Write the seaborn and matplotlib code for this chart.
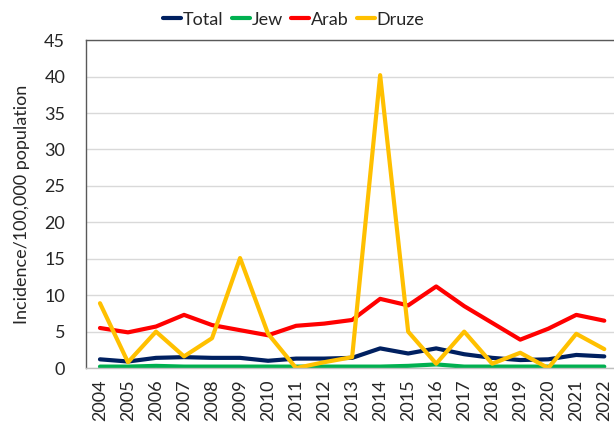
import pandas as pd
import numpy as np
import matplotlib.pyplot as plt
import seaborn as sns

# Incidence per 100,000 population by group
years = [str(y) for y in range(2004, 2023)]
total = [1.2, 0.9, 1.4, 1.5, 1.4, 1.4, 1.0, 1.3, 1.3, 1.4, 2.7, 2.0, 2.7, 1.9, 1.4, 1.1, 1.2, 1.8, 1.6]
jew = [0.2, 0.2, 0.3, 0.2, 0.2, 0.2, 0.2, 0.2, 0.2, 0.2, 0.2, 0.3, 0.5, 0.2, 0.2, 0.2, 0.2, 0.2, 0.2]
arab = [5.5, 4.9, 5.7, 7.3, 5.9, 5.2, 4.5, 5.8, 6.1, 6.6, 9.5, 8.6, 11.2, 8.5, 6.2, 3.9, 5.4, 7.3, 6.5]
druze = [8.9, 0.8, 5.0, 1.6, 4.1, 15.1, 4.7, 0.0, 0.8, 1.5, 40.2, 5.0, 0.6, 5.0, 0.6, 2.1, 0.0, 4.7, 2.6]

groups = ['Total', 'Jew', 'Arab', 'Druze']
colors = ['#002060', '#00B050', '#FF0000', '#FFC000']

df = pd.DataFrame({'Year': years, 'Total': total, 'Jew': jew, 'Arab': arab, 'Druze': druze})
long_df = df.melt(id_vars='Year', var_name='Group', value_name='Incidence')
long_df['x'] = long_df['Year'].map({y: i for i, y in enumerate(years)})

sns.set_style('white')
plt.rcParams['font.family'] = ['Lato', 'DejaVu Sans']

fig = plt.figure(figsize=(6.14, 4.32), dpi=100)
ax = fig.add_axes([0.140, 0.148, 0.867, 0.759])

sns.lineplot(data=long_df, x='x', y='Incidence', hue='Group', hue_order=groups,
             palette=colors, linewidth=3, ax=ax, legend=True)

ax.set_xlim(-0.5, 18.5)
ax.set_ylim(0, 45)
ax.set_yticks(range(0, 46, 5))
ax.set_xticks(range(len(years)))
ax.set_xticklabels(years, rotation=90)
ax.tick_params(axis='y', labelsize=13, length=0, pad=15)
ax.tick_params(axis='x', labelsize=13, length=0, pad=8)
ax.set_xlabel('')
ax.set_ylabel('Incidence/100,000 population', fontsize=13, labelpad=10)
ax.yaxis.grid(True, color='#d9d9d9', linewidth=1)
ax.set_axisbelow(True)

for s in ['left', 'top', 'bottom']:
    ax.spines[s].set_color('#595959')
    ax.spines[s].set_linewidth(1)
ax.spines['bottom'].set_color('#bfbfbf')
ax.spines['right'].set_visible(False)

ax.legend(loc='lower center', bbox_to_anchor=(0.39, 1.0), ncol=4, frameon=False,
          fontsize=13, handlelength=1.0, handletextpad=0.1, columnspacing=0.45,
          borderaxespad=0.3)

fig.savefig('out.png', dpi=100)
